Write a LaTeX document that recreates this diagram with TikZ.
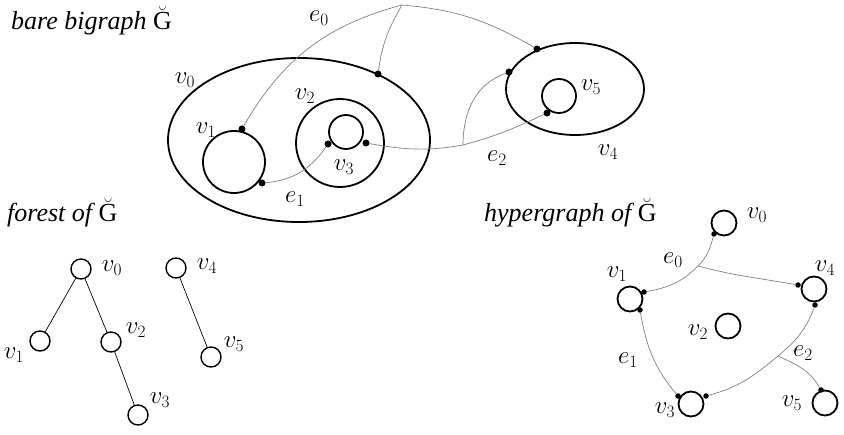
\documentclass[tikz,border=0pt]{standalone}
\usepackage{fontspec}
\setmainfont{Liberation Serif}
\usetikzlibrary{shapes.geometric}
\tikzset{
  place/.style={draw, line width=1.8pt, inner sep=0pt},
  ring/.style={circle, draw, line width=1.8pt, inner sep=0pt},
  tnode/.style={circle, draw, line width=1.4pt, inner sep=0pt, minimum size=20pt},
  port/.style={circle, fill=black, inner sep=0pt, minimum size=7pt},
  hport/.style={circle, fill=black, inner sep=0pt, minimum size=5.5pt},
  link/.style={draw=gray, line width=0.7pt},
  tedge/.style={line width=0.7pt},
  lbl/.style={inner sep=0pt, font=\fontsize{24}{28}\selectfont},
  title/.style={inner sep=0pt, anchor=base west, font=\fontsize{26}{30}\selectfont\itshape}
}
\begin{document}
\begin{tikzpicture}[x=1pt,y=1pt]
  \useasboundingbox (0,0) rectangle (844,-435);
  % titles
  \node[title] (tbare) at (11,-30) {bare bigraph $\breve{\mathrm{G}}$};
  \node[title] (tforest) at (7,-222) {forest of $\breve{\mathrm{G}}$};
  \node[title] (thyper) at (484,-222) {hypergraph of $\breve{\mathrm{G}}$};

  % bare bigraph
  \node[place, ellipse, minimum width=262pt, minimum height=164pt] (b0) at (299,-140) {};
  \node[ring, minimum size=62pt] (b1) at (234,-162) {};
  \node[ring, minimum size=88pt] (b2) at (340,-143) {};
  \node[ring, minimum size=34pt] (b3) at (346,-132) {};
  \node[place, ellipse, minimum width=138pt, minimum height=92pt] (b4) at (575,-89) {};
  \node[ring, minimum size=34pt] (b5) at (559,-96) {};
  \node[lbl] (lb0) at (185,-80) {$v_0$};
  \node[lbl] (lb1) at (206,-130) {$v_1$};
  \node[lbl] (lb2) at (305,-96) {$v_2$};
  \node[lbl] (lb3) at (344,-167) {$v_3$};
  \node[lbl] (lb4) at (608,-152) {$v_4$};
  \node[lbl] (lb5) at (591,-87) {$v_5$};
  \node[lbl] (le0) at (319,-18) {$e_0$};
  \node[lbl] (le1) at (295,-199) {$e_1$};
  \node[lbl] (le2) at (497,-158) {$e_2$};
  % ports
  \node[port] (p1a) at (242,-129) {};
  \node[port] (p1b) at (262,-183) {};
  \node[port] (p3a) at (328,-144) {};
  \node[port] (p3b) at (366,-143) {};
  \node[port] (p0) at (378,-74) {};
  \node[port] (p4a) at (537,-49) {};
  \node[port] (p4b) at (509,-72) {};
  \node[port] (p5) at (547,-113) {};
  \coordinate (j0) at (402,-5);
  \coordinate (j2) at (463,-145);
  % links
  \draw[link] (j0) to[out=195,in=60] (p1a);
  \draw[link] (j0) to[out=240,in=82] (p0);
  \draw[link] (j0) to[out=-5,in=150] (p4a);
  \draw[link] (p1b) to[out=5,in=235] (p3a);
  \draw[link] (p3b) to[out=-10,in=190] (j2);
  \draw[link] (j2) to[out=90,in=200] (p4b);
  \draw[link] (j2) to[out=15,in=205] (p5);

  % forest
  \node[tnode] (f0) at (81,-269) {};
  \node[tnode] (f1) at (40,-341) {};
  \node[tnode] (f2) at (111,-342) {};
  \node[tnode] (f3) at (138,-415) {};
  \node[tnode] (f4) at (176,-268) {};
  \node[tnode] (f5) at (211,-357) {};
  \draw[tedge] (f0) -- (f1);
  \draw[tedge] (f0) -- (f2);
  \draw[tedge] (f2) -- (f3);
  \draw[tedge] (f4) -- (f5);
  \node[lbl] (lf0) at (112,-268) {$v_0$};
  \node[lbl] (lf1) at (14,-355) {$v_1$};
  \node[lbl] (lf2) at (136,-330) {$v_2$};
  \node[lbl] (lf3) at (160,-400) {$v_3$};
  \node[lbl] (lf4) at (207,-266) {$v_4$};
  \node[lbl] (lf5) at (234,-344) {$v_5$};

  % hypergraph
  \node[ring, minimum size=25pt] (h0) at (724,-223) {};
  \node[ring, minimum size=25pt] (h1) at (630,-299) {};
  \node[ring, minimum size=25pt] (h2) at (728,-326) {};
  \node[ring, minimum size=25pt] (h3) at (691,-404) {};
  \node[ring, minimum size=25pt] (h4) at (814,-289) {};
  \node[ring, minimum size=25pt] (h5) at (825,-403) {};
  \node[lbl] (lh0) at (757,-215) {$v_0$};
  \node[lbl] (lh1) at (617,-274) {$v_1$};
  \node[lbl] (lh2) at (698,-332) {$v_2$};
  \node[lbl] (lh3) at (665,-410) {$v_3$};
  \node[lbl] (lh4) at (825,-268) {$v_4$};
  \node[lbl] (lh5) at (792,-403) {$v_5$};
  \node[lbl] (lhe0) at (673,-260) {$e_0$};
  \node[lbl] (lhe1) at (628,-360) {$e_1$};
  \node[lbl] (lhe2) at (803,-353) {$e_2$};
  \node[hport] (q0) at (714,-234) {};
  \node[hport] (q1a) at (644,-292) {};
  \node[hport] (q1b) at (640,-310) {};
  \node[hport] (q4a) at (798,-285) {};
  \node[hport] (q4b) at (815,-305) {};
  \node[hport] (q3a) at (678,-396) {};
  \node[hport] (q3b) at (706,-396) {};
  \node[hport] (q5) at (821,-390) {};
  \coordinate (k0) at (698,-266);
  \coordinate (k2) at (778,-356);
  \draw[link] (q1a) to[out=10,in=225] (k0) to[out=45,in=255] (q0);
  \draw[link] (k0) to[out=-15,in=170] (q4a);
  \draw[link] (q1b) to[out=-80,in=130] (q3a);
  \draw[link] (q3b) to[out=15,in=220] (k2) to[out=40,in=250] (q4b);
  \draw[link] (k2) to[out=-25,in=120] (q5);
\end{tikzpicture}
\end{document}
